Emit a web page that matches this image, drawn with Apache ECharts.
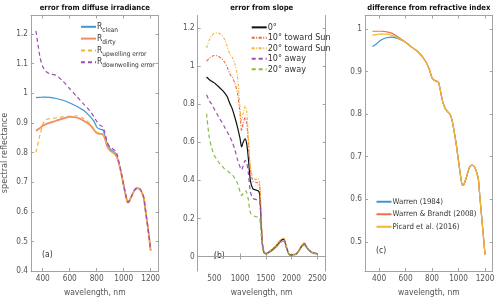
<!DOCTYPE html>
<html><head><meta charset="utf-8">
<script src="https://cdn.jsdelivr.net/npm/echarts@6/dist/echarts.min.js"></script>
<style>html,body{margin:0;padding:0;background:#fff}#c{width:500px;height:302px}</style>
</head><body><div id="c"></div>
<script>
// ---------- data ----------
const titles = ['error from diffuse irradiance', 'error from slope', 'difference from refractive index'];
const panelTags = ['(a)', '(b)', '(c)'];
const xTicksA = [400, 600, 800, 1000, 1200];
const xTicksB = [500, 1000, 1500, 2000, 2500];
const xTicksC = [400, 600, 800, 1000, 1200];
const yTicksA = [0.4, 0.5, 0.6, 0.7, 0.8, 0.9, 1, 1.1, 1.2];
const yTicksB = [0, 0.2, 0.4, 0.6, 0.8, 1, 1.2];
const yTicksC = [0.5, 0.6, 0.7, 0.8, 0.9, 1];

// panel (a)
const waveA = [350,380,400,420,450,500,550,600,650,700,750,780,800,820,840,850,860,880,900,920,940,950,960,980,1000,1020,1030,1040,1060,1080,1100,1120,1140,1150,1160,1180,1200];
const rClean = [0.985,0.986,0.987,0.987,0.986,0.982,0.976,0.967,0.956,0.943,0.922,0.905,0.886,0.879,0.877,0.873,0.857,0.828,0.812,0.805,0.797,0.787,0.772,0.735,0.69,0.648,0.634,0.636,0.655,0.673,0.68,0.677,0.66,0.645,0.61,0.545,0.47];
const rDirty = [0.873,0.883,0.89,0.895,0.9,0.907,0.914,0.92,0.918,0.908,0.893,0.876,0.866,0.863,0.862,0.858,0.848,0.818,0.806,0.8,0.792,0.784,0.77,0.733,0.688,0.645,0.631,0.634,0.653,0.672,0.679,0.676,0.659,0.644,0.609,0.544,0.469];
const rUpErr = [0.8,0.86,0.895,0.91,0.914,0.917,0.92,0.923,0.923,0.915,0.898,0.88,0.868,0.865,0.864,0.86,0.849,0.82,0.807,0.801,0.793,0.785,0.771,0.734,0.689,0.646,0.632,0.635,0.654,0.673,0.68,0.677,0.66,0.645,0.61,0.545,0.47];
const rDownErr = [1.21,1.12,1.09,1.075,1.066,1.06,1.04,1.015,0.99,0.965,0.94,0.92,0.905,0.893,0.888,0.882,0.868,0.832,0.818,0.812,0.804,0.795,0.778,0.737,0.69,0.647,0.633,0.636,0.655,0.674,0.681,0.678,0.661,0.646,0.611,0.546,0.471];
const namesA = ['R_clean', 'R_dirty', 'R_upwelling error', 'R_downwelling error'];

// panel (b)
const waveB = [350,400,450,500,550,600,650,700,750,800,850,900,950,1000,1030,1060,1100,1130,1160,1200,1250,1300,1350,1380,1400,1430,1460,1500,1600,1700,1800,1850,1900,1950,2000,2100,2200,2250,2300,2400,2500];
const slope0 = [0.943,0.93,0.92,0.912,0.9,0.888,0.875,0.86,0.84,0.805,0.775,0.73,0.68,0.62,0.575,0.6,0.618,0.59,0.52,0.4,0.355,0.35,0.345,0.33,0.24,0.08,0.025,0.015,0.03,0.055,0.085,0.09,0.05,0.012,0.008,0.015,0.055,0.068,0.045,0.02,0.015];
const toward10 = [1.026,1.04,1.05,1.056,1.055,1.048,1.038,1.02,0.995,0.96,0.94,0.91,0.86,0.75,0.66,0.7,0.73,0.7,0.6,0.46,0.395,0.39,0.385,0.37,0.28,0.085,0.026,0.016,0.032,0.058,0.09,0.095,0.053,0.013,0.009,0.016,0.058,0.072,0.048,0.021,0.016];
const toward20 = [1.095,1.135,1.16,1.172,1.175,1.172,1.163,1.14,1.105,1.065,1.045,1.01,0.95,0.78,0.715,0.75,0.79,0.76,0.63,0.47,0.41,0.405,0.41,0.39,0.3,0.09,0.027,0.017,0.033,0.06,0.093,0.098,0.055,0.014,0.01,0.017,0.06,0.074,0.05,0.022,0.017];
const away10 = [0.85,0.82,0.8,0.775,0.75,0.725,0.705,0.68,0.655,0.63,0.6,0.56,0.51,0.47,0.455,0.475,0.505,0.49,0.44,0.34,0.305,0.3,0.295,0.29,0.22,0.07,0.022,0.013,0.027,0.05,0.08,0.085,0.047,0.011,0.007,0.014,0.052,0.064,0.043,0.019,0.014];
const away20 = [0.75,0.63,0.57,0.53,0.51,0.49,0.475,0.46,0.45,0.44,0.43,0.41,0.385,0.34,0.32,0.33,0.345,0.335,0.3,0.23,0.215,0.21,0.205,0.2,0.15,0.055,0.02,0.012,0.025,0.047,0.075,0.08,0.045,0.01,0.006,0.013,0.05,0.06,0.041,0.018,0.013];
const namesB = ['0°', '10° toward Sun', '20° toward Sun', '10° away', '20° away'];

// panel (c)
const waveC = [350,380,400,420,450,500,550,600,650,700,750,780,800,820,840,850,860,880,900,920,940,950,960,980,1000,1020,1030,1040,1060,1080,1100,1120,1140,1150,1160,1180,1200];
const warren84 = [0.959,0.965,0.971,0.975,0.979,0.981,0.977,0.969,0.957,0.945,0.925,0.905,0.885,0.879,0.877,0.874,0.86,0.83,0.813,0.805,0.797,0.787,0.772,0.735,0.69,0.645,0.633,0.634,0.652,0.673,0.68,0.677,0.66,0.647,0.61,0.54,0.47];
const warrenBrandt08 = [0.995,0.995,0.995,0.995,0.994,0.99,0.98,0.969,0.957,0.945,0.925,0.905,0.885,0.879,0.877,0.874,0.86,0.83,0.813,0.805,0.797,0.787,0.772,0.735,0.69,0.645,0.633,0.634,0.652,0.673,0.68,0.677,0.66,0.647,0.61,0.54,0.47];
const picard16 = [0.986,0.987,0.988,0.988,0.988,0.985,0.978,0.969,0.957,0.945,0.925,0.905,0.885,0.879,0.877,0.874,0.86,0.83,0.813,0.805,0.797,0.787,0.772,0.735,0.69,0.645,0.633,0.634,0.652,0.673,0.68,0.677,0.66,0.647,0.61,0.54,0.47];
const namesC = ['Warren (1984)', 'Warren & Brandt (2008)', 'Picard et al. (2016)'];

// ---------- layout / style ----------
const FONT = '"Liberation Sans Narrow", "DejaVu Sans Condensed", "Liberation Sans", sans-serif';
const AX = '#a3a3a3', LBL = '#555';
const TICKFS = 8.2;
const grids = [
  {left: 31, top: 15.5, width: 127.5, height: 256.2},
  {left: 197.7, top: 15.5, width: 128, height: 256.2},
  {left: 365, top: 15.5, width: 127.7, height: 256.2}
];
const xRanges = [[313, 1258], [178, 2663], [294, 1258]];
const yRanges = [[0.4, 1.262], [-0.077, 1.266], [0.431, 1.032]];
const xTicks = [xTicksA, xTicksB, xTicksC];
const yTicks = [yTicksA, yTicksB, yTicksC];

const xAxis = [], yAxis = [];
for (let i = 0; i < 3; i++) {
  xAxis.push({
    type: 'value', gridIndex: i, min: xRanges[i][0], max: xRanges[i][1], position: 'bottom',
    name: 'wavelength, nm', nameLocation: 'middle', nameGap: 15,
    nameTextStyle: {fontFamily: FONT, fontSize: 8.5, color: LBL},
    axisLine: {show: true, lineStyle: {color: AX, width: 1}},
    axisTick: {show: true, inside: true, length: 3, lineStyle: {color: AX}, customValues: xTicks[i]},
    axisLabel: {show: true, margin: 4, fontFamily: FONT, fontSize: TICKFS, color: LBL, customValues: xTicks[i], formatter: v => String(v)},
    splitLine: {show: false}
  });
  xAxis.push({
    type: 'value', gridIndex: i, min: xRanges[i][0], max: xRanges[i][1], position: 'top',
    axisLine: {show: true, lineStyle: {color: AX, width: 1}},
    axisTick: {show: true, inside: true, length: 3, lineStyle: {color: AX}, customValues: xTicks[i]},
    axisLabel: {show: false}, splitLine: {show: false}
  });
  yAxis.push({
    type: 'value', gridIndex: i, min: yRanges[i][0], max: yRanges[i][1], position: 'left',
    axisLine: {show: true, lineStyle: {color: AX, width: 1}},
    axisTick: {show: true, inside: true, length: 3, lineStyle: {color: AX}, customValues: yTicks[i]},
    axisLabel: {show: true, margin: 3, fontFamily: FONT, fontSize: TICKFS, color: LBL, customValues: yTicks[i], formatter: v => String(v)},
    splitLine: {show: false}
  });
  yAxis.push({
    type: 'value', gridIndex: i, min: yRanges[i][0], max: yRanges[i][1], position: 'right',
    axisLine: {show: true, lineStyle: {color: AX, width: 1}},
    axisTick: {show: true, inside: true, length: 3, lineStyle: {color: AX}, customValues: yTicks[i]},
    axisLabel: {show: false}, splitLine: {show: false}
  });
}

function mk(name, panel, wave, vals, color, width, type) {
  return {
    name, type: 'line', xAxisIndex: panel * 2, yAxisIndex: panel * 2,
    data: wave.map((w, k) => [w, vals[k]]),
    symbol: 'none', smooth: 0.25, clip: true,
    lineStyle: {color, width, type}, itemStyle: {color},
    emphasis: {disabled: true}
  };
}

const series = [
  mk(namesA[0], 0, waveA, rClean, '#3a97d4', 1.2, 'solid'),
  mk(namesA[1], 0, waveA, rDirty, '#ee8c6a', 1.8, 'solid'),
  mk(namesA[2], 0, waveA, rUpErr, '#f5b52a', 1.2, [4, 3]),
  mk(namesA[3], 0, waveA, rDownErr, '#9a4fb0', 1.2, [4, 3]),
  mk(namesB[0], 1, waveB, slope0, '#111111', 1.2, 'solid'),
  mk(namesB[1], 1, waveB, toward10, '#e8643a', 1.1, [3, 1.5, 1, 1.5]),
  mk(namesB[2], 1, waveB, toward20, '#f4b43c', 1.1, [3, 1.5, 1, 1.5]),
  mk(namesB[3], 1, waveB, away10, '#9b4fb0', 1.2, [4, 3]),
  mk(namesB[4], 1, waveB, away20, '#86bd45', 1.2, [4, 3]),
  mk(namesC[0], 2, waveC, warren84, '#3a97d4', 1.2, 'solid'),
  mk(namesC[1], 2, waveC, warrenBrandt08, '#e9744a', 1.2, 'solid'),
  mk(namesC[2], 2, waveC, picard16, '#f3b530', 1.2, 'solid')
];

const legendBase = {
  orient: 'vertical', itemWidth: 15, itemHeight: 8, selectedMode: false, padding: 0,
  itemStyle: {opacity: 0}
};

const option = {
  animation: false,
  backgroundColor: '#fff',
  title: titles.map((t, i) => ({
    text: t, left: grids[i].left + grids[i].width / 2, top: 4.5, textAlign: 'center', padding: 0,
    textStyle: {fontFamily: FONT, fontSize: 7.6, fontWeight: 'bold', color: '#111'}
  })),
  grid: grids,
  xAxis, yAxis, series,
  legend: [
    Object.assign({}, legendBase, {
      data: namesA, left: 80, top: 22.3, itemGap: 0.3,
      formatter: n => { const p = n.split('_'); return '{r|' + p[0] + '}{s|' + p[1] + '}'; },
      textStyle: {fontFamily: FONT, color: '#333', padding: [0, 0, 0, -4],
        rich: {
          r: {fontFamily: FONT, fontSize: 8.5, color: '#333', lineHeight: 14, verticalAlign: 'middle'},
          s: {fontFamily: FONT, fontSize: 6.5, color: '#333', lineHeight: 6, verticalAlign: 'bottom'}
        }}
    }),
    Object.assign({}, legendBase, {
      data: namesB, left: 250.7, top: 22.1, itemGap: 0,
      textStyle: {fontFamily: FONT, fontSize: 9, color: '#333', lineHeight: 10.5, padding: [0, 0, 0, -4]}
    }),
    Object.assign({}, legendBase, {
      data: namesC, left: 375.5, top: 195.5, itemGap: 0,
      textStyle: {fontFamily: FONT, fontSize: 7.8, color: '#333', lineHeight: 12.5, padding: [0, 0, 0, -4]}
    })
  ],
  graphic: [
    {type: 'text', left: 42, top: 250, style: {text: panelTags[0], font: '8.5px ' + FONT, fill: '#333'}},
    {type: 'text', left: 214, top: 251, style: {text: panelTags[1], font: '8.5px ' + FONT, fill: '#333'}},
    {type: 'text', left: 376, top: 246, style: {text: panelTags[2], font: '8.5px ' + FONT, fill: '#333'}},
    {type: 'text', x: 5, y: 153, rotation: Math.PI / 2,
      style: {text: 'spectral reflectance', font: '9px ' + FONT, fill: LBL, align: 'center', verticalAlign: 'middle'}}
  ]
};

const chart = echarts.init(document.getElementById('c'), null, {renderer: 'canvas'});
chart.setOption(option);
</script></body></html>
